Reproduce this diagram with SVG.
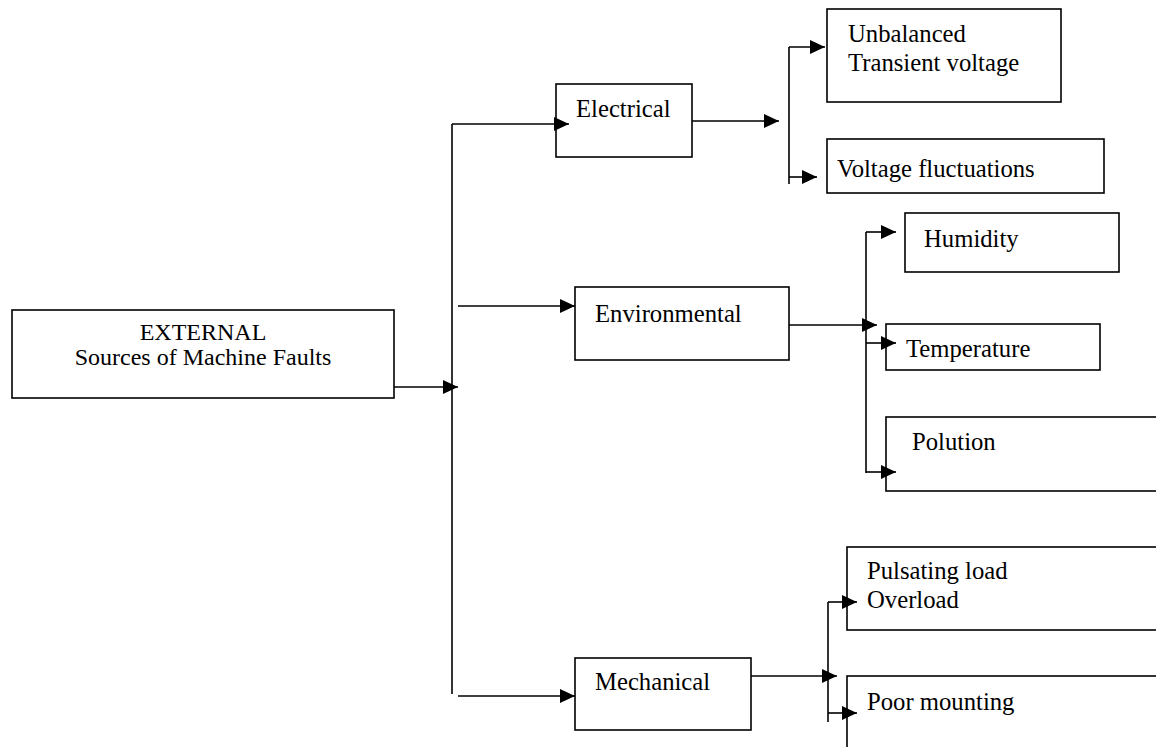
<svg xmlns="http://www.w3.org/2000/svg" width="1156" height="747" viewBox="0 0 1156 747">
<style>
.box{fill:#fff;stroke:#000;stroke-width:1.6}
.ln{fill:none;stroke:#000;stroke-width:1.6}
.arr{fill:none;stroke:#000;stroke-width:1.6;marker-end:url(#ah)}
text{font-family:"Liberation Serif","Times New Roman",serif;font-size:24.7px;fill:#000}
.c{text-anchor:middle;font-size:24px}
</style>
<defs>
<marker id="ah" viewBox="0 0 15 14" refX="15" refY="7" markerWidth="15" markerHeight="14" markerUnits="userSpaceOnUse" orient="auto">
<path d="M0,0 L15,7 L0,14 Z" fill="#000"/>
</marker>
</defs>
<rect width="1156" height="747" fill="#fff"/>
<g id="external">
<rect class="box" x="12" y="310" width="382" height="88"/>
<text class="c" x="203" y="340">EXTERNAL</text>
<text class="c" x="203" y="365">Sources of Machine Faults</text>
</g>
<g id="electrical">
<rect class="box" x="556" y="84" width="136" height="73"/>
<text x="576" y="117">Electrical</text>
</g>
<g id="unbalanced">
<rect class="box" x="827" y="9" width="234" height="93"/>
<text x="848" y="42">Unbalanced</text>
<text x="848" y="71">Transient voltage</text>
</g>
<g id="voltage-fluctuations">
<rect class="box" x="827" y="139" width="277" height="54"/>
<text x="837" y="177">Voltage fluctuations</text>
</g>
<g id="environmental">
<rect class="box" x="575" y="287" width="214" height="73"/>
<text x="595" y="322">Environmental</text>
</g>
<g id="humidity">
<rect class="box" x="905" y="213" width="214" height="59"/>
<text x="924" y="247">Humidity</text>
</g>
<g id="temperature">
<rect class="box" x="886" y="324" width="214" height="46"/>
<text x="906" y="357">Temperature</text>
</g>
<g id="polution">
<rect class="box" x="886" y="417" width="290" height="74"/>
<text x="912" y="450">Polution</text>
</g>
<g id="mechanical">
<rect class="box" x="575" y="658" width="176" height="72"/>
<text x="595" y="690">Mechanical</text>
</g>
<g id="pulsating-load">
<rect class="box" x="847" y="547" width="330" height="83"/>
<text x="867" y="579">Pulsating load</text>
<text x="867" y="608">Overload</text>
</g>
<g id="poor-mounting">
<rect class="box" x="847" y="676" width="330" height="100"/>
<text x="867" y="710">Poor mounting</text>
</g>
<g id="connectors">
<path class="ln" d="M452,694 V124"/>
<path class="arr" d="M452,124 H569"/>
<path class="arr" d="M394,387 H458"/>
<path class="arr" d="M458,306 H575"/>
<path class="arr" d="M458,696 H575"/>
<path class="arr" d="M692,121 H779"/>
<path class="ln" d="M789,47 V184"/>
<path class="arr" d="M789,47 H825"/>
<path class="arr" d="M789,177 H817"/>
<path class="arr" d="M789,325 H877"/>
<path class="ln" d="M866,232 V473"/>
<path class="arr" d="M866,232 H896"/>
<path class="arr" d="M866,343 H896"/>
<path class="arr" d="M866,472 H896"/>
<path class="arr" d="M751,676 H837"/>
<path class="ln" d="M828,602 V722"/>
<path class="arr" d="M828,602 H857"/>
<path class="arr" d="M828,713 H857"/>
</g>
</svg>
